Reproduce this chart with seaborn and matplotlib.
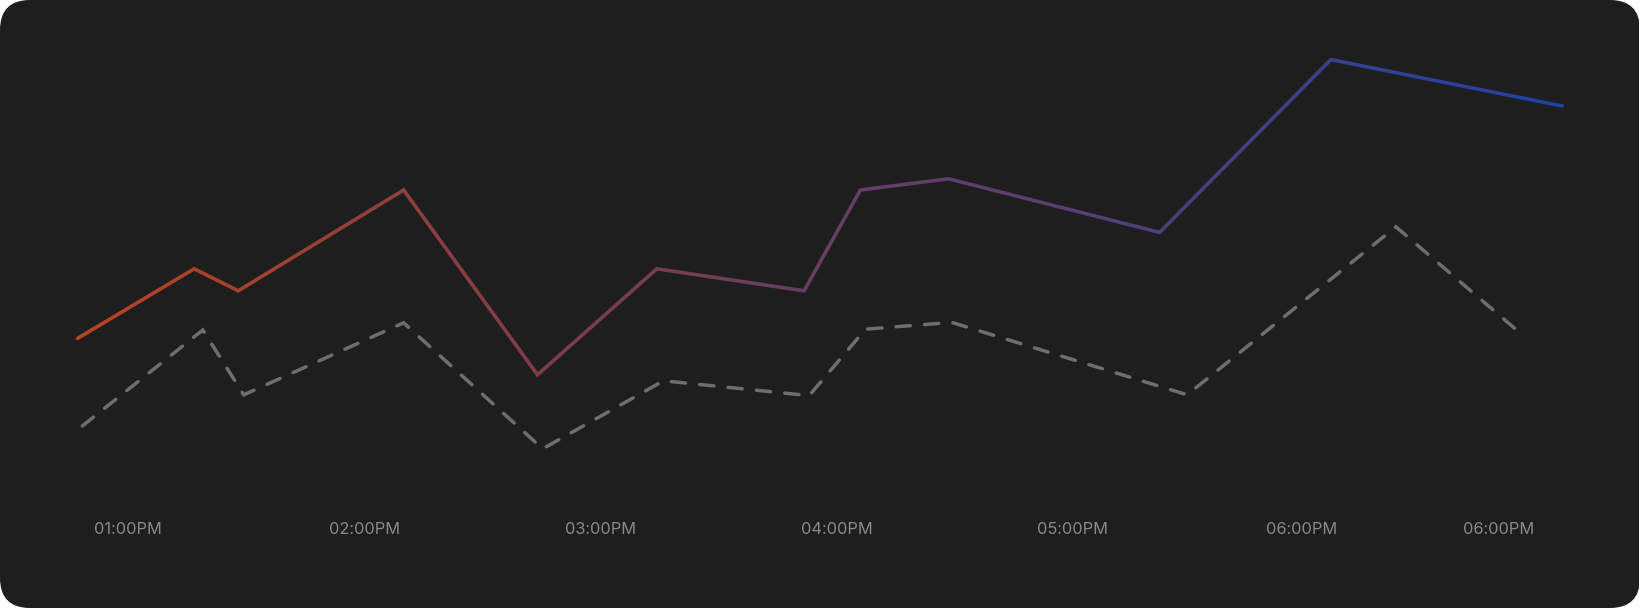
import numpy as np
import pandas as pd
import matplotlib
matplotlib.use("Agg")
import matplotlib.pyplot as plt
from matplotlib.patches import FancyBboxPatch
from matplotlib.colors import LinearSegmentedColormap
import seaborn as sns

# ---- data (x in minutes after 12:00, y in arbitrary units) ----
solid_x = [47.2, 76.8, 88.0, 130.0, 164.0, 194.3, 231.7, 246.0, 268.4, 322.0, 365.5, 424.3]
solid_y = [35.4, 52.8, 47.3, 72.5, 26.3, 52.8, 47.3, 72.5, 75.3, 61.9, 105.1, 93.5]
dashed_x = [48.4, 79.0, 89.4, 130.0, 165.3, 196.0, 233.0, 247.3, 269.2, 329.0, 382.0, 412.9]
dashed_y = [13.5, 37.5, 21.3, 39.3, 7.8, 24.8, 21.1, 37.7, 39.4, 21.3, 63.3, 37.3]
tick_pos = [60, 120, 180, 240, 300, 358, 408]
tick_labels = ["01:00PM", "02:00PM", "03:00PM", "04:00PM", "05:00PM", "06:00PM", "06:00PM"]

grad_colors = ["#b9441f", "#7a3d4e", "#573f72", "#1f3fa8"]
bg = "#1e1e1e"

sns.set_theme(style="white")
plt.rcParams["font.family"] = ["Inter", "DejaVu Sans"]

W, H = 1640, 608
fig = plt.figure(figsize=(W / 100, H / 100), dpi=100, facecolor="white")
card = FancyBboxPatch((0, 0), W, H, boxstyle="round,pad=0,rounding_size=30",
                      transform=None, facecolor=bg, edgecolor="none", zorder=-10)
fig.patches.append(card)

ax_bottom_px = 512
ax = fig.add_axes([0, (H - ax_bottom_px) / H, 1, ax_bottom_px / H])
ax.set_facecolor("none")
ax.patch.set_alpha(0)

df_dash = pd.DataFrame({"x": dashed_x, "y": dashed_y})
df_solid = pd.DataFrame({"x": solid_x, "y": solid_y})

sns.lineplot(data=df_dash, x="x", y="y", ax=ax, color="#6e6e6e", linewidth=2.5,
             estimator=None, sort=False)
sns.lineplot(data=df_solid, x="x", y="y", ax=ax, color=grad_colors[0], linewidth=2.6,
             estimator=None, sort=False)

dash_line, solid_line = ax.lines[0], ax.lines[1]
dash_line.set_dashes([4.1, 4.1])
dash_line.set_dash_capstyle("round")
dash_line.set_dash_joinstyle("miter")
solid_line.set_solid_capstyle("round")
solid_line.set_solid_joinstyle("miter")

cmap = LinearSegmentedColormap.from_list("grad", grad_colors)


def gradient_filter(im, dpi):
    h, w = im.shape[:2]
    out = im.copy()
    cols = cmap(np.linspace(0, 1, w))[:, :3]
    out[..., :3] = cols[None, :, :]
    return out, 0, 0


solid_line.set_agg_filter(gradient_filter)

# x scale: 3.9375 px per minute, 60 min at px 128
ppm = 3.9375
ax.set_xlim(60 - 128 / ppm, 60 + (W - 128) / ppm)
ax.set_ylim((480 - ax_bottom_px) / 4, 480 / 4)

ax.set_xticks(tick_pos)
ax.set_xticklabels(tick_labels)
ax.set_yticks([])
ax.tick_params(axis="x", length=0, pad=7.2, labelsize=11.8, labelcolor="#8a8a8a")
ax.set_xlabel("")
ax.set_ylabel("")
for s in ax.spines.values():
    s.set_visible(False)
if ax.get_legend():
    ax.get_legend().remove()

fig.savefig("out.png", dpi=100, facecolor="white")
